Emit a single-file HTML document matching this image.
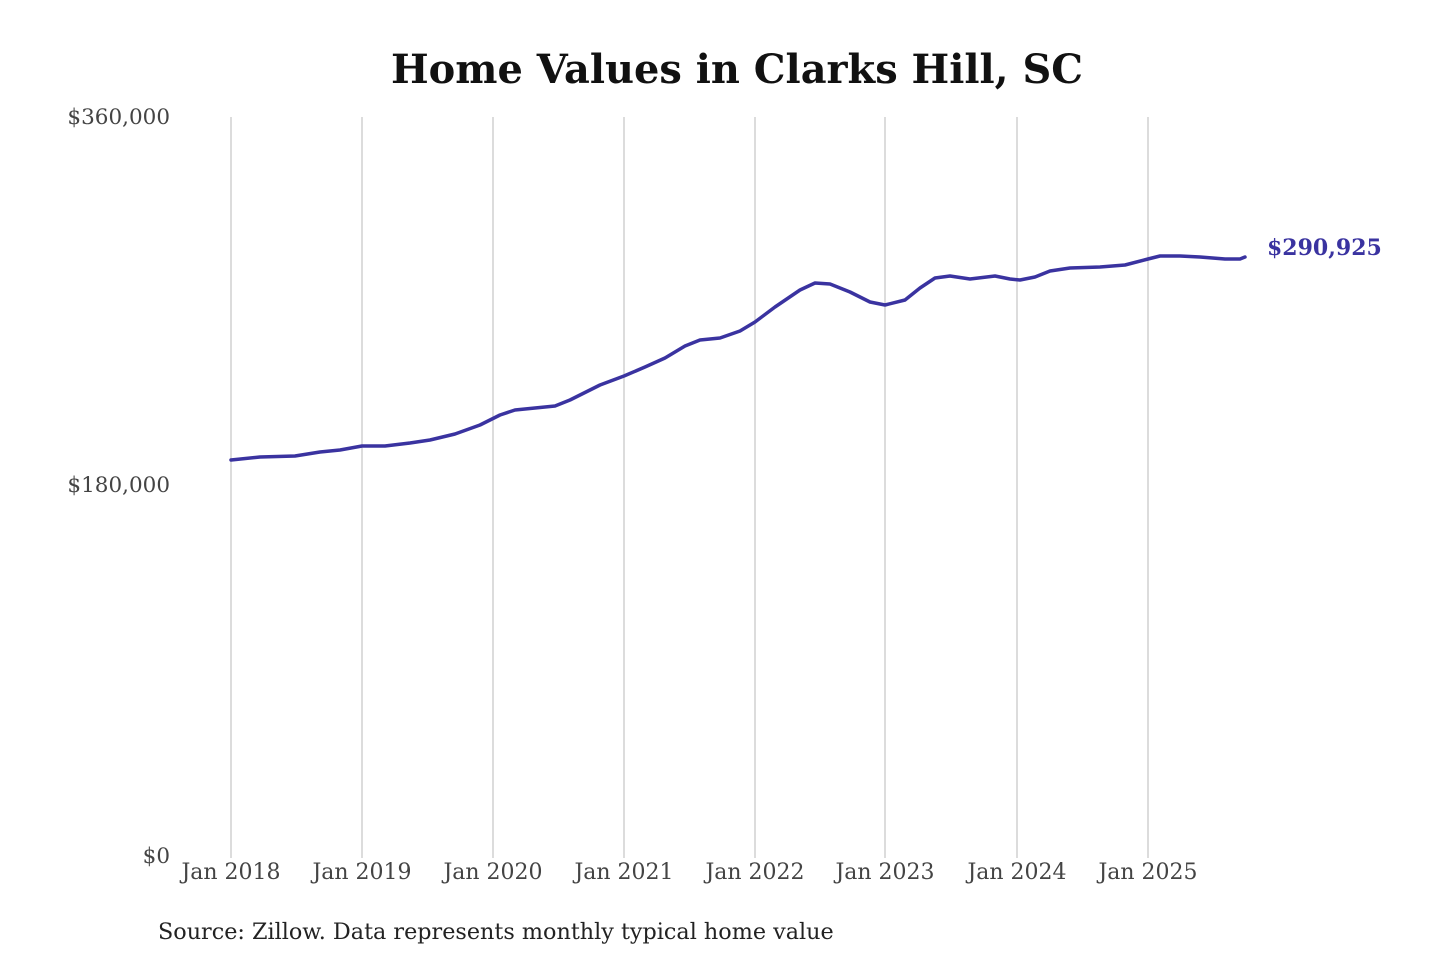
<!DOCTYPE html>
<html><head><meta charset="utf-8"><style>
html,body{margin:0;padding:0;background:#fff;}
svg{display:block;}
text{font-family:"DejaVu Serif","Liberation Serif",serif;}
</style></head><body>
<svg width="1440" height="960" viewBox="0 0 1440 960" xmlns="http://www.w3.org/2000/svg">
<rect width="1440" height="960" fill="#fff"/>
<text x="737" y="83" text-anchor="middle" font-size="40" font-weight="bold" fill="#111" textLength="692" lengthAdjust="spacingAndGlyphs">Home Values in Clarks Hill, SC</text>
<g stroke="#c4c4c4" stroke-width="1.2">
<line x1="231" y1="117" x2="231" y2="858"/>
<line x1="362" y1="117" x2="362" y2="858"/>
<line x1="493" y1="117" x2="493" y2="858"/>
<line x1="624" y1="117" x2="624" y2="858"/>
<line x1="755" y1="117" x2="755" y2="858"/>
<line x1="885" y1="117" x2="885" y2="858"/>
<line x1="1017" y1="117" x2="1017" y2="858"/>
<line x1="1148" y1="117" x2="1148" y2="858"/>
</g>
<g font-size="21.5" fill="#444" text-anchor="end">
<text x="170" y="124">$360,000</text>
<text x="170" y="492">$180,000</text>
<text x="170" y="863">$0</text>
</g>
<g font-size="22" fill="#444" text-anchor="middle">
<text x="231" y="879">Jan 2018</text>
<text x="362" y="879">Jan 2019</text>
<text x="493" y="879">Jan 2020</text>
<text x="624" y="879">Jan 2021</text>
<text x="755" y="879">Jan 2022</text>
<text x="885" y="879">Jan 2023</text>
<text x="1017" y="879">Jan 2024</text>
<text x="1148" y="879">Jan 2025</text>
</g>
<polyline fill="none" stroke="#3a33a0" stroke-width="3.5" stroke-linejoin="round" stroke-linecap="round" points="231,460 260,457 295,456 320,452 340,450 362,446 385,446 410,443 430,440 455,434 480,425 500,415 515,410 535,408 555,406 570,400 590,390 600,385 624,376 645,367 665,358 685,346 700,340 720,338 740,331 755,322 775,307 800,290 815,283 830,284 850,292 870,302 885,305 905,300 920,288 935,278 950,276 970,279 995,276 1010,279 1020,280 1035,277 1050,271 1070,268 1100,267 1125,265 1148,259 1160,256 1180,256 1200,257 1225,259 1240,259 1245,257"/>
<text x="1267" y="255" font-size="22" font-weight="bold" fill="#3a33a0">$290,925</text>
<text x="158" y="939" font-size="22.3" fill="#222">Source: Zillow. Data represents monthly typical home value</text>
</svg>
</body></html>
